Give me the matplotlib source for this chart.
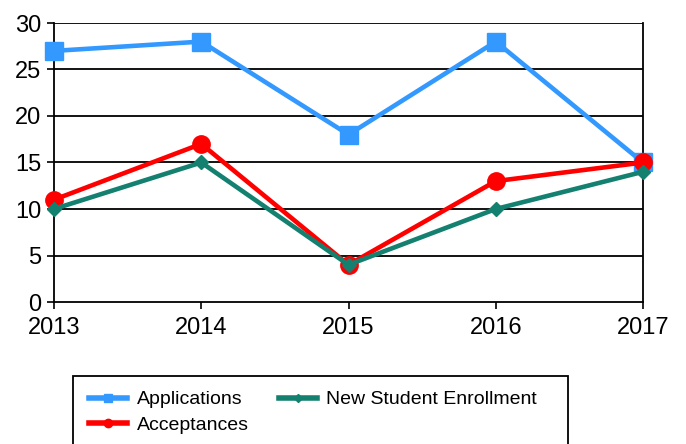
import matplotlib
matplotlib.use("Agg")
import matplotlib.pyplot as plt
from matplotlib.lines import Line2D
from matplotlib.patches import Rectangle

years = ["2013", "2014", "2015", "2016", "2017"]
applications = [27, 28, 18, 28, 15]
acceptances = [11, 17, 4, 13, 15]
enrollment = [10, 15, 4, 10, 14]
yticks = [0, 5, 10, 15, 20, 25, 30]

c_app = "#3399ff"
c_acc = "#ff0000"
c_enr = "#138070"

plt.rcParams['font.family'] = ['Liberation Sans', 'DejaVu Sans']

fig = plt.figure(figsize=(6.86, 4.44), dpi=100)
ax = fig.add_axes([54/686, 1-302/444, (643-54)/686, (302-23)/444])

x = list(range(len(years)))
ax.plot(x, applications, color=c_app, lw=3.3, marker='s', ms=12.5, zorder=3, clip_on=False)
ax.plot(x, enrollment, color=c_enr, lw=3.3, marker='D', ms=7, zorder=4, clip_on=False)
ax.plot(x, acceptances, color=c_acc, lw=3.3, marker='o', ms=12.5, zorder=3, clip_on=False)

ax.set_xlim(0, 4)
ax.set_ylim(0, 30)
ax.set_xticks(x)
ax.set_xticklabels(years)
ax.set_yticks(yticks)
ax.tick_params(axis='both', labelsize=17, direction='out', length=5, width=1.2, color='black')
ax.tick_params(axis='x', pad=6)
ax.tick_params(axis='y', pad=4)
for yv in yticks[1:]:
    ax.axhline(yv, color='black', lw=1.3, zorder=1)
for s in ['left', 'right', 'bottom']:
    ax.spines[s].set_linewidth(1.3)
ax.spines['top'].set_visible(False)

# legend frame
fig.patches.append(Rectangle((73/686, -0.05), (568-73)/686, 1-376/444+0.05,
                             transform=fig.transFigure, fill=False,
                             edgecolor='black', lw=1.3))

handles = [
    Line2D([], [], color=c_app, lw=4, marker='s', ms=6),
    Line2D([], [], color=c_acc, lw=4, marker='o', ms=6),
    Line2D([], [], color=c_enr, lw=4, marker='D', ms=4),
]
labels = ["Applications", "Acceptances", "New Student Enrollment"]
leg = fig.legend(handles, labels, ncol=2, loc='upper left',
                 bbox_to_anchor=(83/686, 1-385/444),
                 fontsize=14, frameon=False,
                 handlelength=1.95, handletextpad=0.5,
                 labelspacing=0.42, borderpad=0.3, columnspacing=1.55,
                 borderaxespad=0)

fig.savefig("out.png", dpi=100)
